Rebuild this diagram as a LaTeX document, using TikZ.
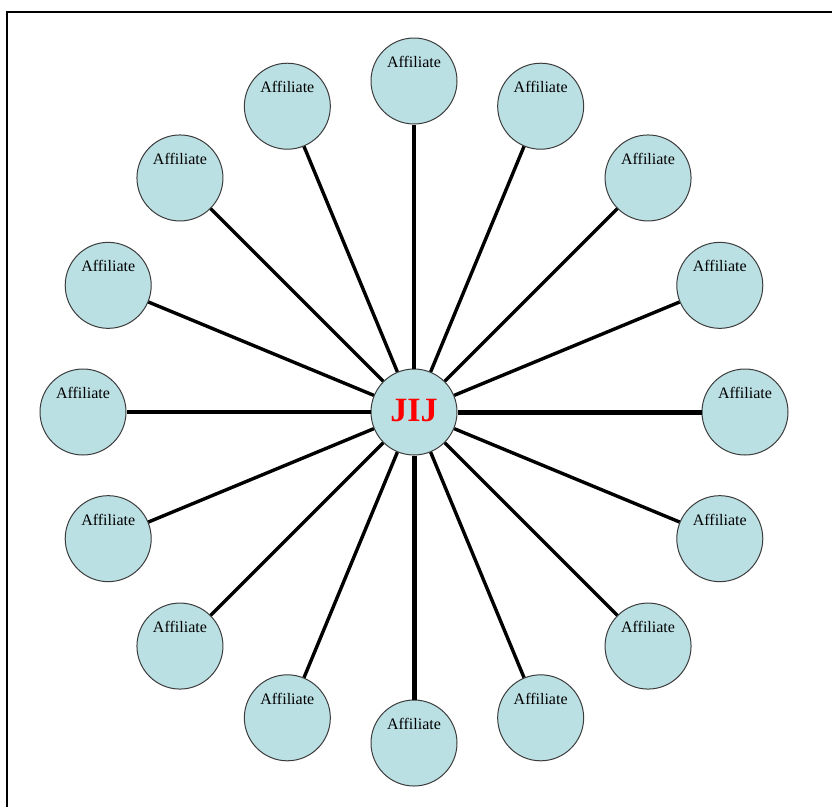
\documentclass[tikz,border=0pt]{standalone}
\usepackage{fontspec}
\setmainfont{Liberation Serif}
\usetikzlibrary{calc}
\definecolor{affblue}{RGB}{187,224,228}
\definecolor{rimgray}{RGB}{60,60,60}
\begin{document}
\begin{tikzpicture}[x=1pt,y=-1pt,
  hub/.style={circle, draw=rimgray, line width=1pt, fill=affblue, minimum size=86pt, inner sep=0pt,
    font=\fontsize{34}{36}\selectfont\bfseries, text=red},
  affiliate/.style={circle, draw=rimgray, line width=1pt, fill=affblue, minimum size=86pt, inner sep=0pt,
    label={[yshift=19pt, font=\fontsize{16}{18}\selectfont, text=black]center:Affiliate}},
  spoke/.style={line width=3.4pt, black},
  thickspoke/.style={line width=5pt, black}]
\useasboundingbox (0,0) rectangle (832,807);
\fill[white] (0,0) rectangle (832,807);
\draw[line width=2pt] (7,807) -- (7,12) -- (832,12);
\node[hub] (c) at (414,412) {\raisebox{4pt}{JIJ}};
\foreach \i in {1,...,16}{
  \pgfmathsetmacro{\ang}{90-(\i-1)*22.5}
  \node[affiliate] (a\i) at ($(414,412)+(\ang:331 and -331)$) {};
}
\foreach \i in {1,...,16}{
  \ifnum\i=5 \else\ifnum\i=9 \else
  \draw[spoke] (c) -- (a\i);
  \fi\fi
}
\draw[thickspoke] (c) -- (a5);
\draw[thickspoke] (c) -- (a9);
\end{tikzpicture}
\end{document}
